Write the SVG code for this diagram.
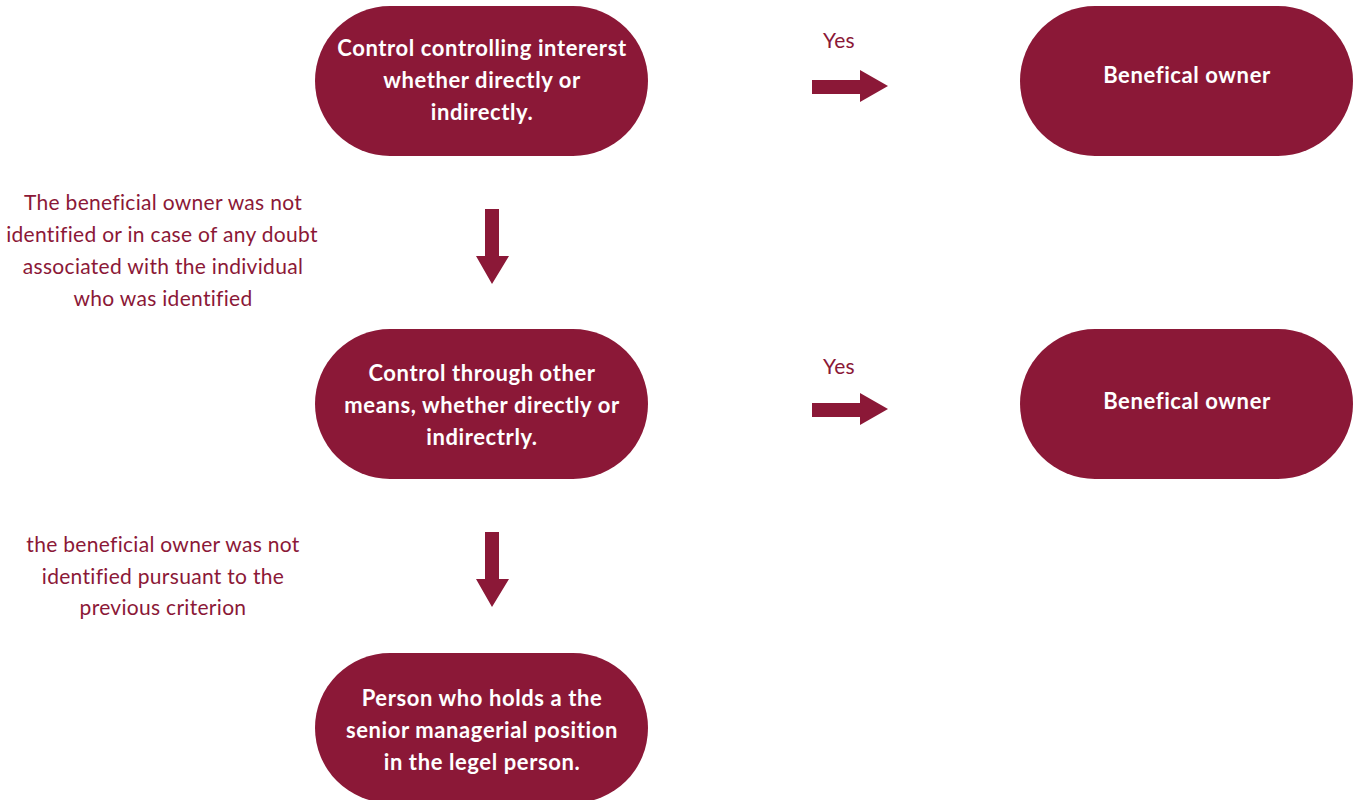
<svg xmlns="http://www.w3.org/2000/svg" width="1360" height="800" viewBox="0 0 1360 800">
  <style>
    .node { fill: #8b1837; }
    .ntext { font-family: Lato, "Open Sans", sans-serif; font-weight: 700; font-size: 22px; letter-spacing: 0.6px; fill: #ffffff; text-anchor: middle; }
    .label { font-family: Lato, "Open Sans", sans-serif; font-weight: 400; font-size: 21px; letter-spacing: 0.3px; fill: #8b1837; text-anchor: middle; }
    .arrow { fill: #8b1837; }
  </style>
  <rect width="1360" height="800" fill="#ffffff"/>

  <g id="node-interest">
    <rect class="node" x="315" y="6" width="333" height="150" rx="75" ry="75"/>
    <text class="ntext" x="482" y="56">Control controlling intererst</text>
    <text class="ntext" x="482" y="88">whether directly or</text>
    <text class="ntext" x="482" y="120">indirectly.</text>
  </g>

  <g id="node-owner-1">
    <rect class="node" x="1020" y="6" width="333" height="150" rx="75" ry="75"/>
    <text class="ntext" x="1187" y="83">Benefical owner</text>
  </g>

  <g id="node-other-means">
    <rect class="node" x="315" y="329" width="333" height="150" rx="75" ry="75"/>
    <text class="ntext" x="482" y="381">Control through other</text>
    <text class="ntext" x="482" y="413">means, whether directly or</text>
    <text class="ntext" x="482" y="445">indirectrly.</text>
  </g>

  <g id="node-owner-2">
    <rect class="node" x="1020" y="329" width="333" height="150" rx="75" ry="75"/>
    <text class="ntext" x="1187" y="409">Benefical owner</text>
  </g>

  <g id="node-senior">
    <rect class="node" x="315" y="653" width="333" height="150" rx="75" ry="75"/>
    <text class="ntext" x="482" y="706">Person who holds a the</text>
    <text class="ntext" x="482" y="738">senior managerial position</text>
    <text class="ntext" x="482" y="770">in the legel person.</text>
  </g>

  <g id="connectors">
    <!-- Yes arrows to the right -->
    <polygon class="arrow" points="812,80 860,80 860,70 888,86 860,102 860,94 812,94"/>
    <polygon class="arrow" points="812,403 860,403 860,393 888,409 860,425 860,417 812,417"/>
    <!-- downward arrows -->
    <polygon class="arrow" points="485,209 499,209 499,256 509,256 492,284 476,256 485,256"/>
    <polygon class="arrow" points="485,532 499,532 499,579 509,579 492,607 476,579 485,579"/>

    <text class="label" x="839" y="48">Yes</text>
    <text class="label" x="839" y="374">Yes</text>

    <text class="label" x="163" y="210">The beneficial owner was not</text>
    <text class="label" x="162" y="242">identified or in case of any doubt</text>
    <text class="label" x="163" y="274">associated with the individual</text>
    <text class="label" x="163" y="306">who was identified</text>

    <text class="label" x="163" y="552">the beneficial owner was not</text>
    <text class="label" x="163" y="584">identified pursuant to the</text>
    <text class="label" x="163" y="615">previous criterion</text>
  </g>
</svg>
